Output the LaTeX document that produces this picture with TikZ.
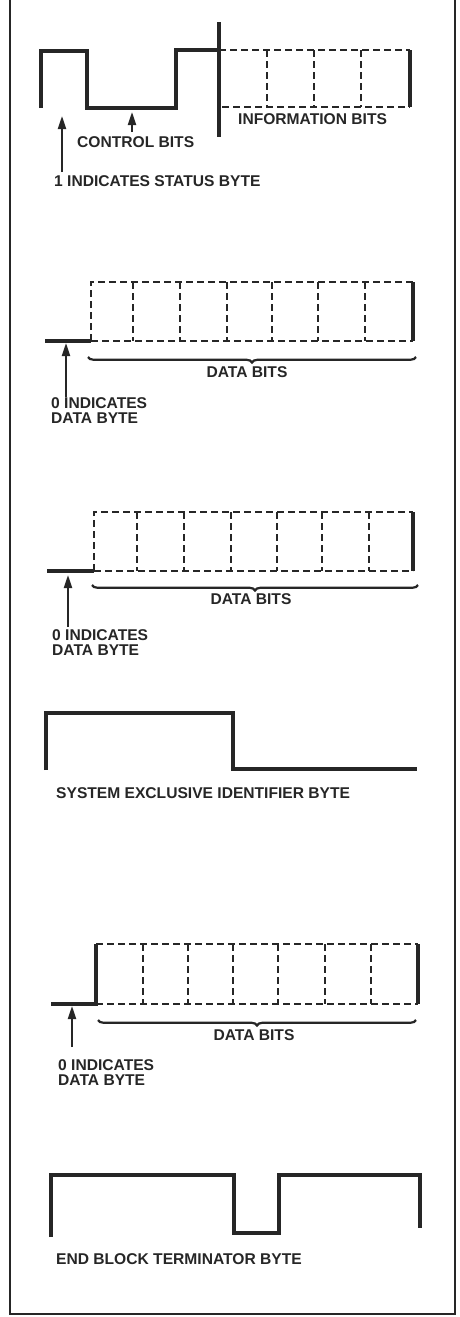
\documentclass[tikz,border=0pt]{standalone}
\usepackage{fontspec}
\setmainfont{Liberation Sans}
\usetikzlibrary{arrows.meta,decorations.pathreplacing}

\begin{document}
\begin{tikzpicture}[
  x=1pt,y=-1pt,
  font=\fontsize{15.6}{15}\selectfont\bfseries,
  ink/.style={draw=black!85},
  sig/.style={ink,line width=3.5pt,line join=miter},
  cell/.style={ink,line width=2.8pt,dash pattern=on 7pt off 4pt},
  ptr/.style={ink,line width=2pt,-{Triangle[length=13pt,width=8pt]}},
  brc/.style={ink,line width=2.2pt,decorate,decoration={brace,mirror,amplitude=5.5pt}},
  lab/.style={inner sep=0pt,anchor=west,text=black!85},
  lab2/.style={inner sep=0pt,anchor=north west,align=left,text=black!85}
]
\useasboundingbox (0,0) rectangle (460,1317);
% ---- Frame ----
\draw[ink,line width=2.5pt] (10,0) -- (10,1314) -- (455,1314) -- (455,0);
% ---- Status byte ----
\draw[sig] (41,108) -- (41,51) -- (87,51) -- (87,108) -- (176,108) -- (176,50) -- (219,50);
\draw[sig] (219,22) -- (219,137);
\draw[cell] (219,50) -- (410,50);
\draw[cell] (222,107) -- (410,107);
\foreach \x in {267,314,361} \draw[cell] (\x,50) -- (\x,107);
\draw[sig] (410,50) -- (410,107);
\node[lab] (ctrl) at (77,142) {CONTROL BITS};
\node[lab] (stat) at (54,181) {1 INDICATES STATUS BYTE};
\node[lab] (info) at (238,119) {INFORMATION BITS};
\coordinate (st1) at (62,172); \coordinate (sp1) at (62,116);
\coordinate (ct1) at (132,132); \coordinate (cp1) at (132,112);
\draw[ptr] (st1) -- (sp1);
\draw[ptr] (ct1) -- (cp1);
% ---- First data byte ----
\draw[sig] (45,341) -- (91,341);
\draw[cell] (91,341) -- (91,282) -- (413,282);
\draw[cell] (91,341) -- (413,341);
\foreach \x in {133,180,227,272,318,365} \draw[cell] (\x,282) -- (\x,341);
\draw[sig] (413,282) -- (413,341);
\draw[brc] (88,357) -- (416,357);
\node[text=black!85,inner sep=0pt] (bitsa) at (247,372) {DATA BITS};
\node[lab2] (dataa) at (51,397) {0 INDICATES\\DATA BYTE};
\coordinate (at1) at (66,397); \coordinate (ap1) at (66,343);
\draw[ptr] (at1) -- (ap1);
% ---- Second data byte ----
\draw[sig] (47,571) -- (94,571);
\draw[cell] (94,571) -- (94,512) -- (413,512);
\draw[cell] (94,571) -- (413,571);
\foreach \x in {137,184,231,277,322,369} \draw[cell] (\x,512) -- (\x,571);
\draw[sig] (413,512) -- (413,571);
\draw[brc] (92,585) -- (418,585);
\node[text=black!85,inner sep=0pt] (bitsb) at (251,599) {DATA BITS};
\node[lab2] (datab) at (52,629) {0 INDICATES\\DATA BYTE};
\coordinate (bt1) at (68,627); \coordinate (bp1) at (68,575);
\draw[ptr] (bt1) -- (bp1);
% ---- System exclusive identifier ----
\draw[sig] (46,770) -- (46,713) -- (233,713) -- (233,769) -- (417,769);
\node[lab] (sysx) at (56,793) {SYSTEM EXCLUSIVE IDENTIFIER BYTE};
% ---- Third data byte ----
\draw[sig] (51,1004) -- (96,1004) -- (96,944);
\draw[cell] (96,944) -- (418,944);
\draw[cell] (96,1004) -- (418,1004);
\foreach \x in {143,188,233,278,325,371} \draw[cell] (\x,944) -- (\x,1004);
\draw[sig] (418,944) -- (418,1004);
\draw[brc] (98,1020) -- (416,1020);
\node[text=black!85,inner sep=0pt] (bitsc) at (254,1035) {DATA BITS};
\node[lab2] (datac) at (58,1059) {0 INDICATES\\DATA BYTE};
\coordinate (ct2) at (72,1047); \coordinate (cp2) at (72,1006);
\draw[ptr] (ct2) -- (cp2);
% ---- End block ----
\draw[sig] (51,1237) -- (51,1175) -- (234,1175) -- (234,1233) -- (279,1233)
           -- (279,1175) -- (420,1175) -- (420,1228);
\node[lab] (eob) at (56,1259) {END BLOCK TERMINATOR BYTE};
\end{tikzpicture}
\end{document}
